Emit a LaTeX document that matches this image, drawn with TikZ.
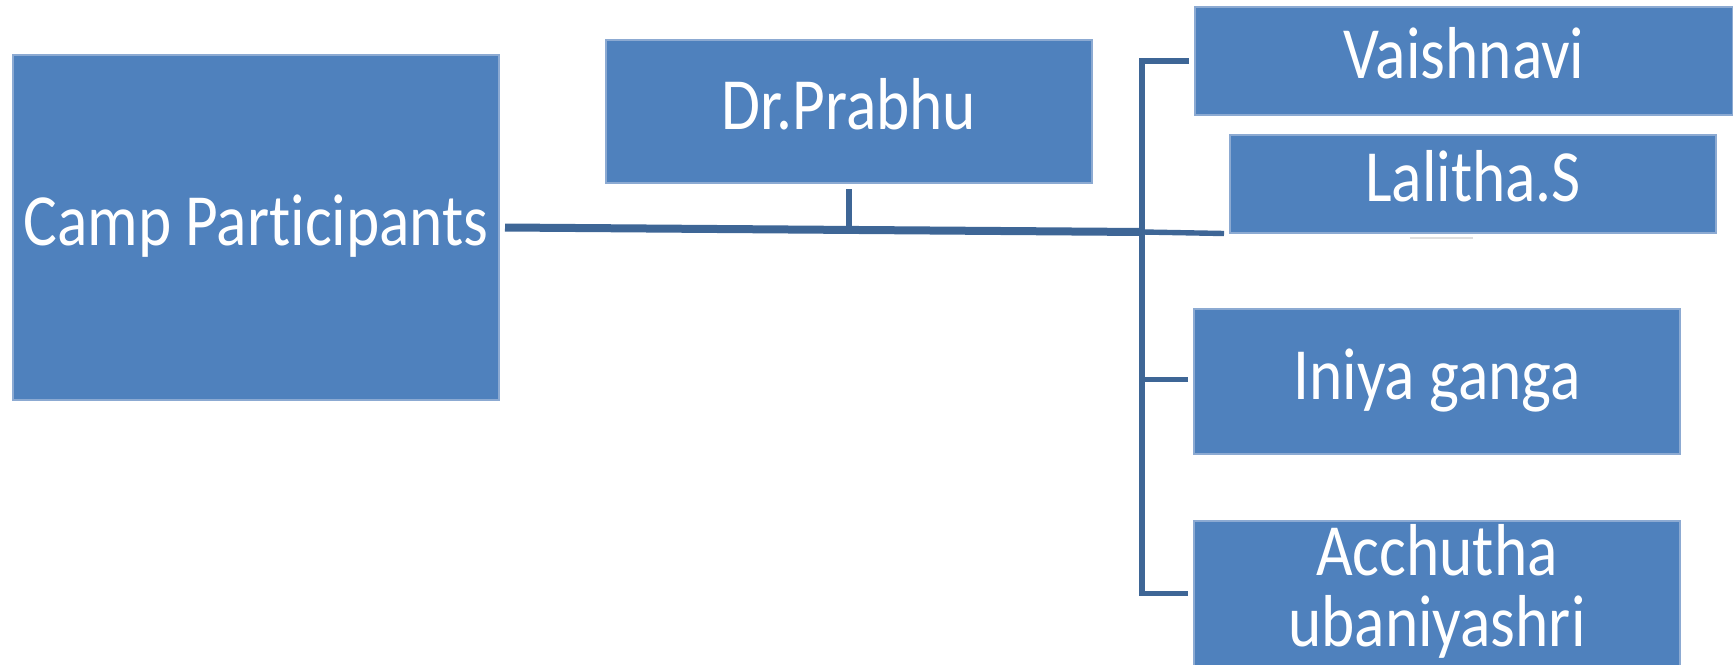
\documentclass[tikz,border=0pt]{standalone}
\usepackage{fontspec}
\newfontfamily\boxfont{Carlito}[FakeStretch=0.86, Ligatures=NoCommon]
\usetikzlibrary{calc}
\definecolor{boxblue}{RGB}{79,129,189}
\definecolor{boxedge}{RGB}{140,170,210}
\definecolor{linkblue}{RGB}{62,102,150}
\tikzset{
  person/.style={fill=boxblue, draw=boxedge, line width=0.3pt, text=white,
    inner sep=0pt, outer sep=0pt, align=center, minimum width=121.5pt,
    text depth=3.8pt, font=\boxfont\fontsize{18.4}{17.75}\selectfont},
  link/.style={draw=linkblue, line width=1.35pt}
}
\begin{document}
\begin{tikzpicture}[x=0.25pt,y=-0.25pt]
    \useasboundingbox (0,0) rectangle (1733,664);
    \node[person, minimum height=86.25pt] (camp) at (256,227.5) {Camp Participants};
    \node[person, minimum height=35.75pt] (dr) at (849,111.5) {Dr.Prabhu};
    \node[person, minimum width=134.5pt, minimum height=27pt] (vaish) at (1464,61) {Vaishnavi};
    \node[person, minimum height=24.5pt] (lalitha) at (1473,184) {Lalitha.S};
    \node[person, minimum height=36.25pt] (iniya) at (1437,381.5) {Iniya ganga};
    \node[person, minimum height=36.25pt] (acch) at (1437,593.5) {Acchutha\\ubaniyashri};
    \coordinate (hub) at (1143,232);
    \draw[link, line width=2pt] ($(camp.east)+(6,0)$) -- (hub);
    \draw[link] (hub) -- ($(lalitha.south west)+(-6,0.5)$);
    \draw[link, line width=1.6pt] ($(dr.south)+(0,6)$) -- (dr.south |- hub);
    \draw[link] ($(vaish.west)+(-6,0)$) -| ($(acch.west)+(-52,0)$)
        -- ($(acch.west)+(-6,0)$);
    \draw[link] ($(iniya.west)+(-6,-2)$) -- ++(-46,0);
    \draw[gray!25, line width=0.5pt] ($(lalitha.south)+(-63,5)$) -- ++(63,0);
\end{tikzpicture}
\end{document}
